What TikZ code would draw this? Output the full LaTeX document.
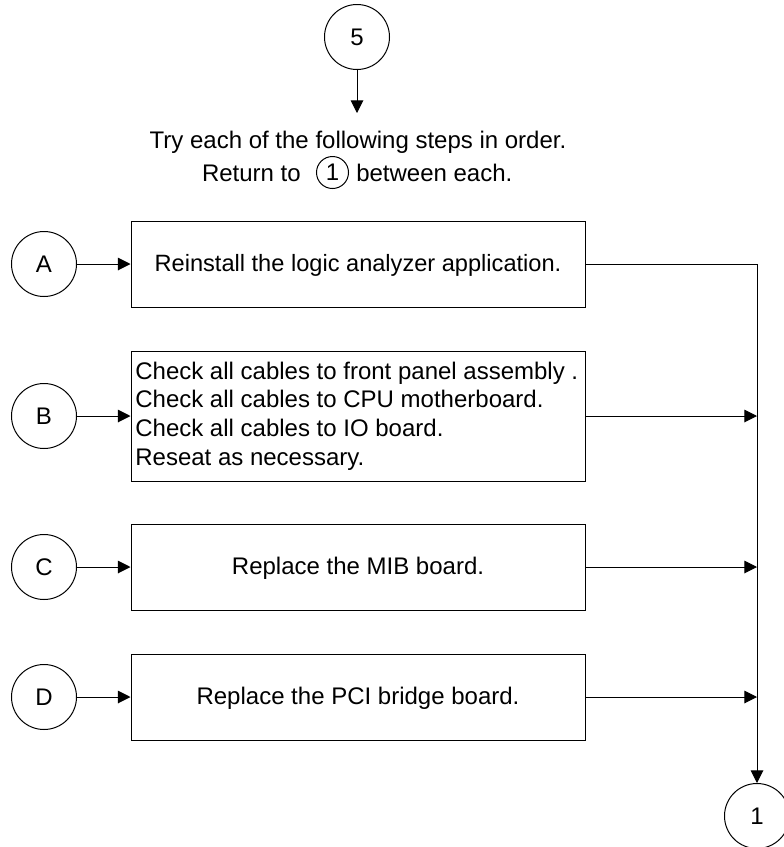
\documentclass[tikz,border=0pt]{standalone}
\usepackage{fontspec}
\setmainfont{Liberation Sans}
\usetikzlibrary{arrows.meta}
\begin{document}
\begin{tikzpicture}[x=0.75pt,y=-0.75pt,
 circ/.style={draw,circle,line width=0.75pt,minimum size=48.75pt,inner sep=0pt,font=\fontsize{18}{21}\selectfont},
 stepbox/.style={draw,line width=0.75pt,minimum width=340.5pt,inner sep=0pt,font=\fontsize{18}{21}\selectfont},
 onebox/.style={stepbox,minimum height=64.5pt,text height=14.5pt,text depth=4pt},
 lbl/.style={font=\fontsize{18}{21}\selectfont,inner sep=0pt},
 arr/.style={-{Triangle[length=9.5pt,width=9.5pt]},line width=0.75pt}]
\useasboundingbox (0,0) rectangle (783,847);
\node[circ] (five) at (357,37) {5};
\coordinate (t1) at (357,113);
\draw[arr] (five) -- (t1);
\node[lbl] (l1) at (358,142) {Try each of the following steps in order.};
\node[lbl,anchor=east] (l2a) at (301,173) {Return to};
\node[draw,circle,line width=0.75pt,minimum size=24pt,inner sep=0pt,font=\fontsize{18}{21}\selectfont] (l2c) at (332.5,172.5) {1};
\node[lbl,anchor=west] (l2b) at (356,173) {between each.};
\node[circ] (A) at (44,264) {A};
\node[circ] (B) at (44,416) {B};
\node[circ] (C) at (44,567) {C};
\node[circ] (D) at (44,697) {D};
\node[onebox,font=\fontsize{17.7}{21}\selectfont] (ba) at (358,264) {Reinstall the logic analyzer application.};
\node[stepbox,minimum height=97.5pt] (bb) at (358,416) {\begin{minipage}{334pt}\fontsize{18}{21.4}\selectfont Check all cables to front panel assembly .\\Check all cables to CPU motherboard.\\Check all cables to IO board.\\Reseat as necessary.\end{minipage}};
\node[onebox] (bc) at (358,567) {Replace the MIB board.};
\node[onebox] (bd) at (358,697) {Replace the PCI bridge board.};
\node[circ] (one) at (757,816) {1};
\coordinate (jb) at (757,416);
\coordinate (jc) at (757,567);
\coordinate (jd) at (757,697);
\draw[arr] (A) -- (ba);
\draw[arr] (B) -- (bb);
\draw[arr] (C) -- (bc);
\draw[arr] (D) -- (bd);
\draw[arr] (ba.east) -| (one.north);
\draw[arr] (bb.east) -- (jb);
\draw[arr] (bc) -- (jc);
\draw[arr] (bd) -- (jd);
\end{tikzpicture}
\end{document}
